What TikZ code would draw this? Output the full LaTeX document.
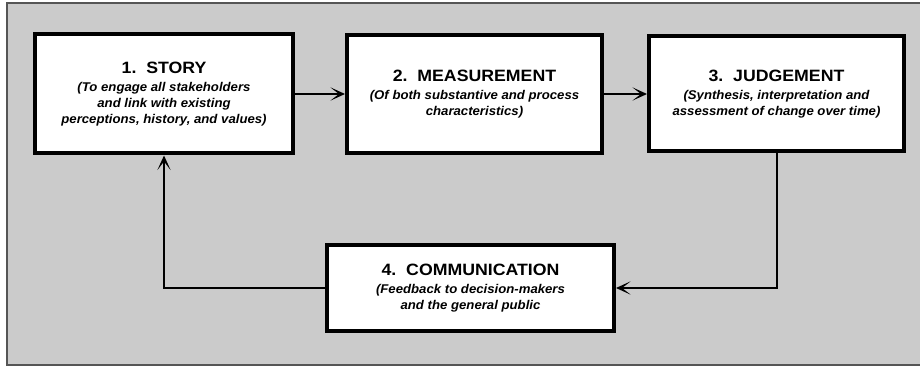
\documentclass[tikz,border=0pt]{standalone}
\usepackage{fontspec}
\setmainfont{Liberation Sans}
\newfontfamily\titlefont[FakeStretch=1.08]{Liberation Sans}
\newfontfamily\subfont[FakeStretch=1.04]{Liberation Sans}
\usetikzlibrary{arrows.meta}
\definecolor{bg}{HTML}{CBCBCB}
\definecolor{edge}{HTML}{555555}
\newcommand{\ttl}[1]{{\titlefont\fontsize{12.3}{12}\selectfont\upshape\bfseries #1}}
\begin{document}
\begin{tikzpicture}[x=0.75pt,y=-0.75pt,
  box/.style={draw=black,line width=3pt,fill=white,align=center,inner sep=0pt,
    font=\subfont\fontsize{9.5}{12}\selectfont\bfseries\itshape},
  conn/.style={line width=1.5pt,-{Stealth[length=11pt,width=10pt,inset=6.5pt]}}]
\useasboundingbox (0,0) rectangle (920,366);
\fill[bg] (7,3) rectangle (920,365);
\draw[line width=0.9pt,edge] (920,3) -- (7,3) -- (7,365) -- (920,365);
\node[box,minimum width=193.5pt,minimum height=89.25pt] (s1) at (164,94)
  {\ttl{1.\ \ STORY}\\[1.5pt](To engage all stakeholders\\and link with existing\\perceptions, history, and values)};
\node[box,minimum width=191.25pt,minimum height=88.5pt] (s2) at (474.5,94)
  {\ttl{2.\ \ MEASUREMENT}\\[1.5pt](Of both substantive and process\\characteristics)};
\node[box,minimum width=191.25pt,minimum height=86.25pt] (s3) at (776.5,94)
  {\ttl{3.\ \ JUDGEMENT}\\[1.5pt](Synthesis, interpretation and\\assessment of change over time)};
\node[box,minimum width=215.25pt,minimum height=64.5pt] (s4) at (470.5,288)
  {\ttl{4.\ \ COMMUNICATION}\\[1.5pt](Feedback to decision-makers\\and the general public};
\draw[conn] (s1) -- (s2);
\draw[conn] (s2) -- (s3);
\draw[conn] (s3.south) |- (s4.east);
\draw[conn] (s4.west) -| (s1.south);
\end{tikzpicture}
\end{document}
